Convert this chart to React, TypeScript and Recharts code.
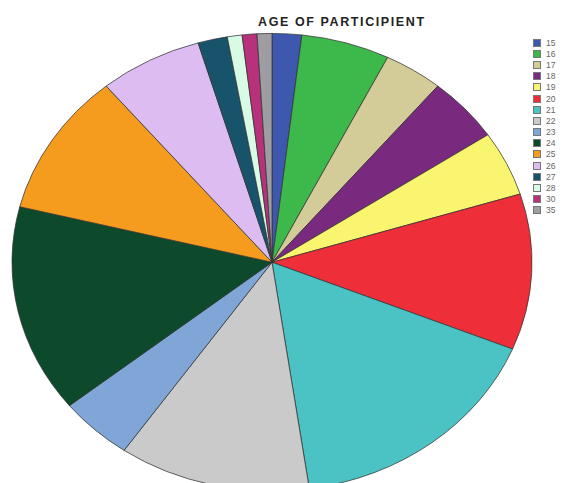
import { PieChart, Pie, Cell } from "recharts";

const ages = ["15", "16", "17", "18", "19", "20", "21", "22", "23", "24", "25", "26", "27", "28", "30", "35"];
const counts = [2, 6, 4, 5, 5, 12, 18, 13, 5, 16, 11, 7, 2, 1, 1, 1];
const COLORS = [
  "#3E58B0", "#3DB84A", "#D3CC98", "#7A2A7E", "#FAF56E", "#EE2E38",
  "#4BC2C4", "#CACACA", "#7FA6D6", "#0D4A2B", "#F59C1F", "#DDBDF1",
  "#17546B", "#D8FBE6", "#B8317B", "#9E9EA2",
];

const pieData = ages.map((age, i) => ({ name: age, value: counts[i] }));

const App = () => {
  return (
    <div
      style={{
        position: "absolute",
        left: 0,
        top: 0,
        width: 585,
        height: 483,
        overflow: "hidden",
        background: "#fff",
        fontFamily: "Arial, 'Liberation Sans', sans-serif",
      }}
    >
      {/* pie is squashed vertically like the original export */}
      <div
        style={{
          position: "absolute",
          left: 0,
          top: 0,
          transform: "scaleY(0.88)",
          transformOrigin: "0 0",
        }}
      >
        <PieChart width={585} height={600} margin={{ top: 0, right: 0, bottom: 0, left: 0 }}>
          <Pie
            data={pieData}
            dataKey="value"
            nameKey="name"
            cx={272}
            cy={298}
            outerRadius={260}
            startAngle={90}
            endAngle={-270}
            stroke="#333"
            strokeWidth={0.8}
            isAnimationActive={false}
            label={false}
          >
            {pieData.map((entry, index) => (
              <Cell key={`cell-${index}`} fill={COLORS[index % COLORS.length]} />
            ))}
          </Pie>
        </PieChart>
      </div>

      <div
        style={{
          position: "absolute",
          left: 258,
          top: 15,
          fontSize: 12.5,
          lineHeight: "14px",
          fontWeight: "bold",
          letterSpacing: 1.6,
          color: "#222",
          whiteSpace: "nowrap",
        }}
      >
        AGE OF PARTICIPIENT
      </div>

      <div style={{ position: "absolute", left: 533, top: 37 }}>
        {pieData.map((item, index) => (
          <div
            key={index}
            style={{ display: "flex", alignItems: "center", height: 11.2, gap: 5 }}
          >
            <div
              style={{
                width: 8,
                height: 8,
                backgroundColor: COLORS[index % COLORS.length],
                border: "1px solid #777",
                boxSizing: "border-box",
              }}
            />
            <span style={{ fontSize: 8.5, color: "#666" }}>{item.name}</span>
          </div>
        ))}
      </div>
    </div>
  );
};

export default App;
